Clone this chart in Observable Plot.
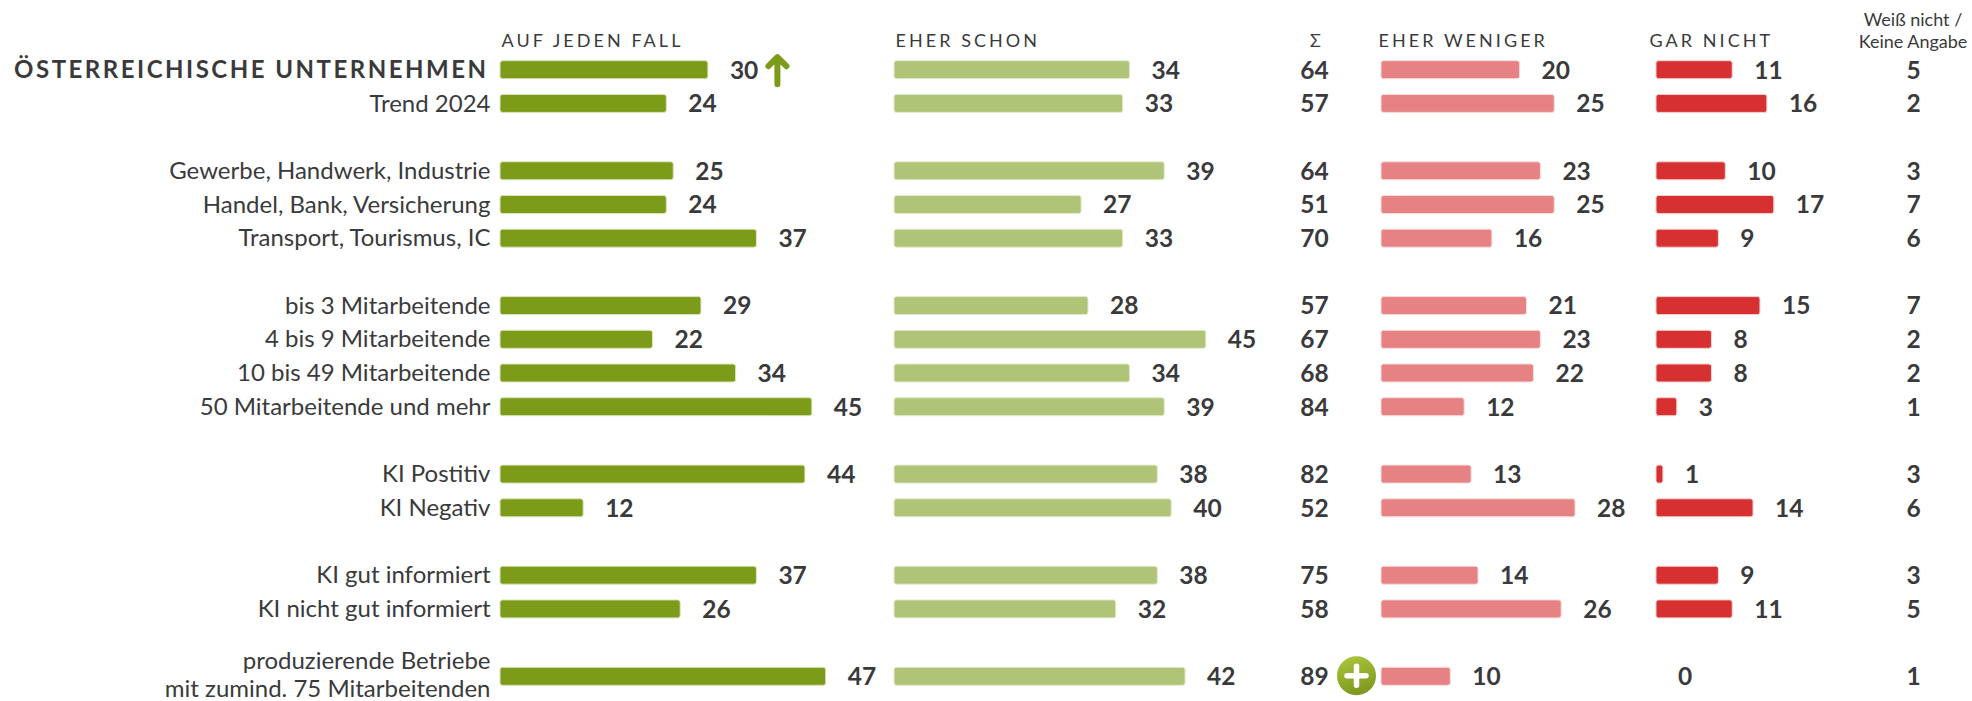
<!DOCTYPE html>
<html><head><meta charset="utf-8">
<script src="https://cdn.jsdelivr.net/npm/d3@7"></script>
<script src="https://cdn.jsdelivr.net/npm/@observablehq/plot@0.6"></script>
<style>
html,body{margin:0;padding:0;background:#fff;overflow:hidden}
svg{display:block}
.hdr{letter-spacing:3.05px}
.ttl{letter-spacing:2.5px}
</style></head><body><div id="chart"></div>
<script>
const labels = ["ÖSTERREICHISCHE UNTERNEHMEN","Trend 2024","Gewerbe, Handwerk, Industrie","Handel, Bank, Versicherung","Transport, Tourismus, IC","bis 3 Mitarbeitende","4 bis 9 Mitarbeitende","10 bis 49 Mitarbeitende","50 Mitarbeitende und mehr","KI Postitiv","KI Negativ","KI gut informiert","KI nicht gut informiert","produzierende Betriebe\nmit zumind. 75 Mitarbeitenden"];
const rows = [0,1,3,4,5,7,8,9,10,12,13,15,16,18];
const aufJedenFall = [30,24,25,24,37,29,22,34,45,44,12,37,26,47];
const eherSchon = [34,33,39,27,33,28,45,34,39,38,40,38,32,42];
const summe = [64,57,64,51,70,57,67,68,84,82,52,75,58,89];
const eherWeniger = [20,25,23,25,16,21,23,22,12,13,28,14,26,10];
const garNicht = [11,16,10,17,9,15,8,8,3,1,14,9,11,0];
const weissNicht = [5,2,3,7,6,7,2,2,1,3,6,3,5,1];
const headers = ["AUF JEDEN FALL","EHER SCHON","EHER WENIGER","GAR NICHT"];
const sumHeader = "Σ";
const dkHeader = "Weiß nicht /\nKeine Angabe";

const font = "Lato";
const ink = "#3a3a3c";
const idx = d3.range(labels.length);
const columns = [
  {values: aufJedenFall, dx: 500, fill: "#7c9b18", stroke: "#dbe4bd"},
  {values: eherSchon, dx: 894, fill: "#afc476", stroke: "#e4ebd0"},
  {values: eherWeniger, dx: 1381, fill: "#e78284", stroke: "#f8dcdc"},
  {values: garNicht, dx: 1656, fill: "#d63030", stroke: "#f5d0d0"}
];
const headerDx = [501, 895, 1378, 1649];

const arrowShape = {draw(ctx, l) {
  ctx.moveTo(0, 0); ctx.lineTo(0, -l);
  ctx.moveTo(-9, -l + 9); ctx.lineTo(0, -l); ctx.lineTo(9, -l + 9);
}};
const plusShape = {draw(ctx, l) {
  ctx.moveTo(0, 0); ctx.lineTo(0, -l);
  ctx.moveTo(-l/2, -l/2); ctx.lineTo(l/2, -l/2);
}};

const gradient = () => {
  const s = d3.create("svg:defs");
  const g = s.append("linearGradient").attr("id","badge").attr("x1",0).attr("y1",0).attr("x2",0.3).attr("y2",1);
  g.append("stop").attr("offset","0%").attr("stop-color","#aec73e");
  g.append("stop").attr("offset","100%").attr("stop-color","#7f9a20");
  return s.node();
};

const chart = Plot.plot({
  width: 1972, height: 701,
  marginTop: 0, marginRight: 0, marginBottom: 0, marginLeft: 0,
  style: {background: "#fff", fontFamily: font},
  x: {domain: [0, 100], range: [0, 693], axis: null},
  y: {type: "band", domain: d3.range(19), range: [60.7, 685.3], paddingInner: 0.466, paddingOuter: 0, align: 0.5, round: false, axis: null},
  marks: [
    gradient,
    ...columns.flatMap(c => [
      Plot.barX(idx.filter(i => c.values[i] > 0), {x1: 0, x2: i => c.values[i], y: i => rows[i], dx: c.dx, fill: c.fill, stroke: c.stroke, strokeWidth: 1, rx: 2.5}),
      Plot.text(idx, {x: i => c.values[i], y: i => rows[i], text: i => String(c.values[i]), dx: c.dx + 21.5, dy: 0.5, textAnchor: "start", fontSize: 24.5, fontWeight: 700, fill: ink})
    ]),
    Plot.text(idx.slice(1, -1), {x: 0, y: i => rows[i], text: i => labels[i], dx: 490, dy: 0, textAnchor: "end", fontSize: 24, fill: ink}),
    Plot.text(idx.slice(-1), {x: 0, y: i => rows[i], text: i => labels[i], dx: 490, dy: -3, textAnchor: "end", fontSize: 24, lineHeight: 1.17, fill: ink}),
    Plot.text([0], {x: 0, y: i => rows[i], text: i => labels[i], dx: 488, dy: 0, textAnchor: "end", fontSize: 24, fontWeight: 700, fill: ink, className: "ttl"}),
    Plot.text(idx, {x: 0, y: i => rows[i], text: i => String(summe[i]), dx: 1314, dy: 0.5, textAnchor: "middle", fontSize: 24.5, fontWeight: 700, fill: ink}),
    Plot.text(idx, {x: 0, y: i => rows[i], text: i => String(weissNicht[i]), dx: 1913, dy: 0.5, textAnchor: "middle", fontSize: 24.5, fontWeight: 700, fill: ink}),
    ...headers.map((h, i) => Plot.text([h], {x: 0, y: 0, text: d => d, dx: headerDx[i], dy: -29, textAnchor: "start", fontSize: 18, fill: ink, className: "hdr"})),
    Plot.text([sumHeader], {x: 0, y: 0, text: d => d, dx: 1315, dy: -29, textAnchor: "middle", fontSize: 18, fill: ink}),
    Plot.text([dkHeader], {x: 0, y: 0, text: d => d, dx: 1912.5, dy: -40, textAnchor: "middle", fontSize: 18, lineHeight: 1.22, fill: ink}),
    Plot.vector([0], {x: i => aufJedenFall[i], y: i => rows[i], dx: 569, dy: 0.5, length: 27, anchor: "middle", shape: arrowShape, stroke: "#7c9b18", strokeWidth: 6, strokeLinecap: "round", strokeLinejoin: "round"}),
    Plot.dot([13], {x: 0, y: i => rows[i], dx: 1356, dy: -1, r: 19.5, fill: "url(#badge)"}),
    Plot.vector([13], {x: 0, y: i => rows[i], dx: 1356, dy: -1, length: 19, anchor: "middle", shape: plusShape, stroke: "#fff", strokeWidth: 5.5, strokeLinecap: "round"})
  ]
});
document.getElementById("chart").append(chart);
</script></body></html>
